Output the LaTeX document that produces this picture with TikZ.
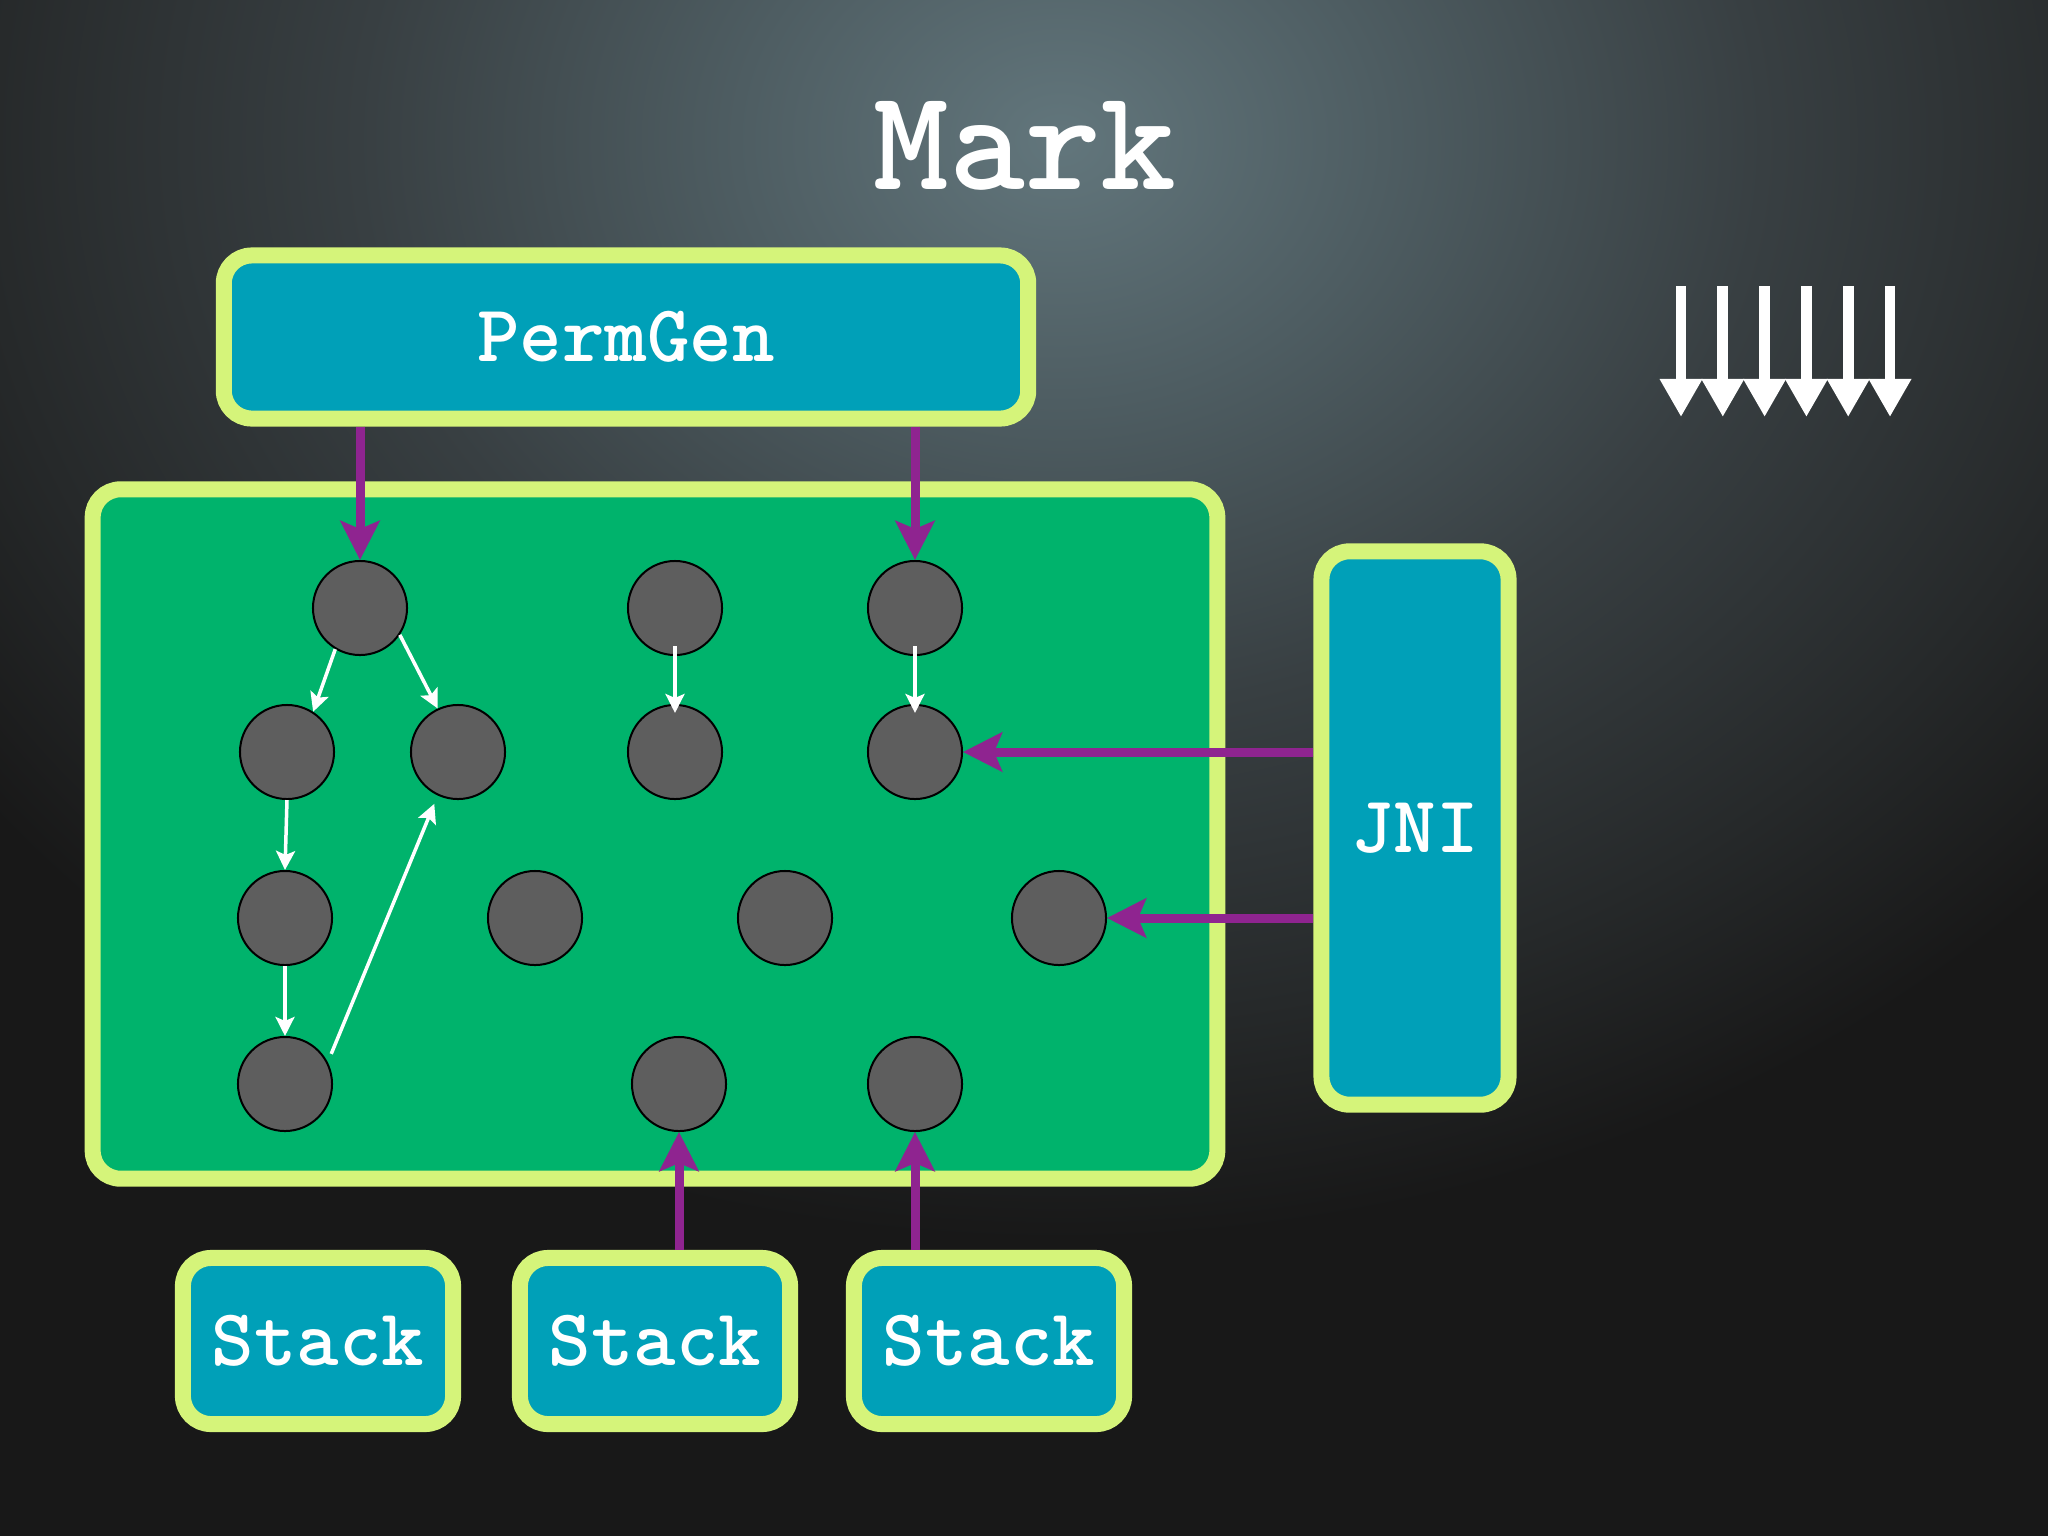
\documentclass[tikz,border=0pt]{standalone}
\usepackage{fontspec}
\usetikzlibrary{arrows.meta}
\definecolor{limeedge}{HTML}{D5F47A}
\definecolor{tealfill}{HTML}{00A0B8}
\definecolor{heapgreen}{HTML}{00B36C}
\definecolor{markpurple}{HTML}{8F2490}
\definecolor{objgray}{HTML}{5E5E5E}
\definecolor{glow0}{HTML}{62767C}
\definecolor{glow1}{HTML}{4E5D62}
\definecolor{glow2}{HTML}{383F42}
\definecolor{glow3}{HTML}{26292A}
\definecolor{glow4}{HTML}{181818}
\pgfdeclareradialshading{bgglow}{\pgfpoint{0bp}{0bp}}{color(0bp)=(glow0); color(6bp)=(glow1); color(13bp)=(glow2); color(20bp)=(glow3); color(25bp)=(glow4); color(50bp)=(glow4)}
\tikzset{
  region/.style={draw=limeedge, line width=0.16cm, rounded corners=0.28cm, inner sep=0pt},
  rootbox/.style={region, fill=tealfill, text=white, font=\ttfamily\bfseries\fontsize{23pt}{23pt}\selectfont},
  obj/.style={circle, fill=objgray, draw=black, line width=0.02cm, minimum size=0.94cm, inner sep=0pt},
  rootarrow/.style={markpurple, line width=0.09cm, -{Stealth[length=0.39cm, width=0.39cm, inset=0.08cm]}},
  refarrow/.style={white, line width=0.035cm, -{Stealth[length=0.19cm, width=0.19cm, inset=0.04cm]}},
  sweeparrow/.style={white, line width=0.107cm, -{Triangle[length=0.38cm, width=0.4cm]}}
}
\begin{document}
\begin{tikzpicture}[x=0.01cm, y=-0.01cm]
\useasboundingbox (0,0) rectangle (2048,1536);
\fill[glow4] (0,0) rectangle (2048,1536);
\begin{scope}
  \clip (0,0) rectangle (2048,1536);
  \shade[shading=bgglow] (1060,140) ellipse [x radius=13.5cm, y radius=11cm];
\end{scope}

\node[text=white, font=\ttfamily\bfseries\fontsize{41pt}{41pt}\selectfont] (title) at (1025,146) {Mark};

\node[rootbox, minimum width=8.04cm, minimum height=1.63cm] (permgen) at (626,337) {PermGen};
\node[region, fill=heapgreen, minimum width=11.24cm, minimum height=6.89cm] (heap) at (655,834) {};
\node[rootbox, minimum width=1.87cm, minimum height=5.53cm] (jni) at (1415,828) {JNI};
\node[rootbox, minimum width=2.7cm, minimum height=1.66cm] (stackA) at (318,1341) {Stack};
\node[rootbox, minimum width=2.7cm, minimum height=1.66cm] (stackB) at (655,1341) {Stack};
\node[rootbox, minimum width=2.7cm, minimum height=1.66cm] (stackC) at (989,1341) {Stack};

\foreach \name/\x/\y in {o11/360/608, o12/675/608, o13/915/608,
    o21/287/752, o22/458/752, o23/675/752, o24/915/752,
    o31/285/918, o32/535/918, o33/785/918, o34/1059/918,
    o41/285/1084, o42/679/1084, o43/915/1084}
  \node[obj] (\name) at (\x,\y) {};

\draw[rootarrow] (o11 |- permgen.south) -- (o11);
\draw[rootarrow] (o13 |- permgen.south) -- (o13);
\draw[rootarrow] (o24 -| jni.west) -- (o24);
\draw[rootarrow] (o34 -| jni.west) -- (o34);
\draw[rootarrow] (o42 |- stackB.north) -- (o42);
\draw[rootarrow] (o43 |- stackC.north) -- (o43);

\draw[refarrow] (o11.239) -- (o21.57);
\draw[refarrow] (o11.-34) -- (o22.115);
\draw[refarrow] (o21.south) -- (o31.north);
\draw[refarrow] (o31.south) -- (o41.north);
\draw[refarrow, shorten <=0.09cm, shorten >=0.09cm] (o41.27) -- (o22.245);
\draw[refarrow, shorten <=-0.1cm, shorten >=-0.09cm] (o12.south) -- (o23.north);
\draw[refarrow, shorten <=-0.1cm, shorten >=-0.09cm] (o13.south) -- (o24.north);

\foreach \i in {0,...,5}
  \draw[sweeparrow] (1681+41.8*\i,286) -- (1681+41.8*\i,417);
\end{tikzpicture}
\end{document}
